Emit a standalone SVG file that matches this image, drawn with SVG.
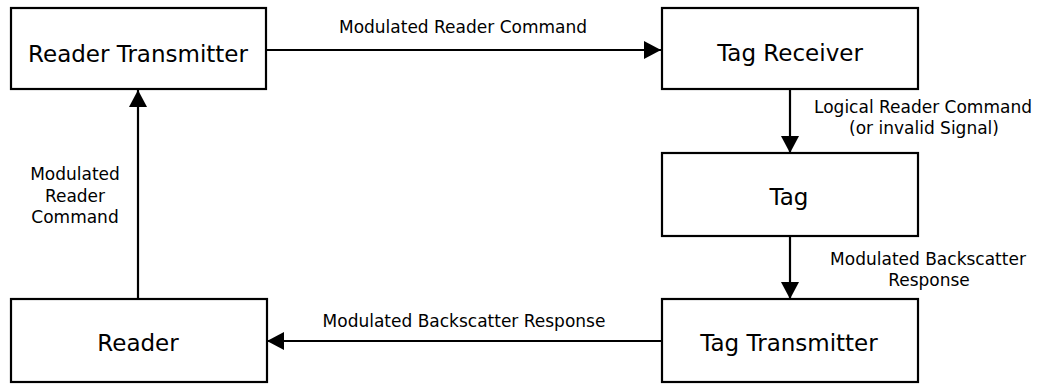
<svg xmlns="http://www.w3.org/2000/svg" width="1047" height="384" viewBox="0 0 1047 384">
  <style>
    .box { fill: #ffffff; stroke: #000000; stroke-width: 2.2; }
    .title { font-family: "DejaVu Sans", Verdana, sans-serif; font-size: 23px; fill: #000000; text-anchor: middle; }
    .label { font-family: "DejaVu Sans", Verdana, sans-serif; font-size: 17px; fill: #000000; text-anchor: middle; }
    .wire { fill: none; stroke: #000000; stroke-width: 2.2; }
  </style>
  <defs>
    <marker id="arrow" viewBox="0 0 17 18" refX="17" refY="9" markerWidth="17" markerHeight="18" markerUnits="userSpaceOnUse" orient="auto">
      <path d="M0,0 L17,9 L0,18 Z" fill="#000000"/>
    </marker>
  </defs>
  <rect width="1047" height="384" fill="#ffffff"/>

  <g id="connectors">
    <!-- Reader Transmitter to Tag Receiver -->
    <line class="wire" x1="266" y1="50" x2="661" y2="50" marker-end="url(#arrow)"/>
    <text class="label" x="463" y="33">Modulated Reader Command</text>
    <!-- Tag Receiver to Tag -->
    <line class="wire" x1="790" y1="89" x2="790" y2="153" marker-end="url(#arrow)"/>
    <text class="label" x="923" y="113">Logical Reader Command</text>
    <text class="label" x="924" y="134">(or invalid Signal)</text>
    <!-- Tag to Tag Transmitter -->
    <line class="wire" x1="790" y1="236" x2="790" y2="299" marker-end="url(#arrow)"/>
    <text class="label" x="928" y="265">Modulated Backscatter</text>
    <text class="label" x="929" y="286">Response</text>
    <!-- Tag Transmitter to Reader -->
    <line class="wire" x1="662" y1="341" x2="267" y2="341" marker-end="url(#arrow)"/>
    <text class="label" x="464" y="327">Modulated Backscatter Response</text>
    <!-- Reader to Reader Transmitter -->
    <line class="wire" x1="138" y1="299" x2="138" y2="90" marker-end="url(#arrow)"/>
    <text class="label" x="75" y="180">Modulated</text>
    <text class="label" x="75" y="202">Reader</text>
    <text class="label" x="75" y="223">Command</text>
  </g>

  <g id="reader-transmitter">
    <rect class="box" x="11" y="8" width="255" height="81"/>
    <text class="title" x="138" y="62">Reader Transmitter</text>
  </g>
  <g id="tag-receiver">
    <rect class="box" x="662" y="8" width="256" height="81"/>
    <text class="title" x="790" y="61">Tag Receiver</text>
  </g>
  <g id="tag">
    <rect class="box" x="662" y="153" width="256" height="83"/>
    <text class="title" x="789" y="205">Tag</text>
  </g>
  <g id="tag-transmitter">
    <rect class="box" x="662" y="299" width="256" height="83"/>
    <text class="title" x="789" y="351">Tag Transmitter</text>
  </g>
  <g id="reader">
    <rect class="box" x="11" y="299" width="256" height="83"/>
    <text class="title" x="138" y="351">Reader</text>
  </g>
</svg>
